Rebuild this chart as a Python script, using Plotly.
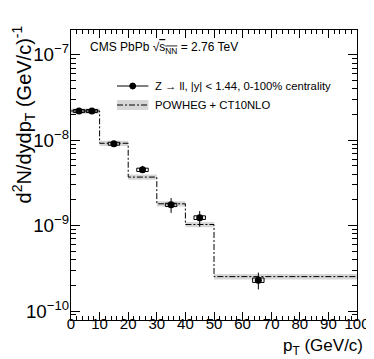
import plotly.graph_objects as go

# data points (CMS Z -> ll, PbPb)
pt = [2.8, 7.3, 15, 25, 35, 45, 65.5]
yields = [2.2e-8, 2.2e-8, 9.1e-9, 4.5e-9, 1.75e-9, 1.24e-9, 2.3e-10]
stat_up = [0.08e-8, 0.08e-8, 0.3e-9, 0.5e-9, 0.35e-9, 0.24e-9, 0.52e-10]
stat_dn = [0.08e-8, 0.08e-8, 0.3e-9, 0.3e-9, 0.34e-9, 0.27e-9, 0.51e-10]
syst_rel = [0.04, 0.04, 0.04, 0.045, 0.045, 0.05, 0.06]
syst_halfwidth = 2.0

# POWHEG + CT10NLO prediction
bin_edges = [0, 10, 20, 30, 40, 50, 100]
model = [2.2e-8, 9.2e-9, 3.7e-9, 1.8e-9, 1.03e-9, 2.53e-10]
model_rel = [0.07, 0.07, 0.07, 0.07, 0.07, 0.075]

FONT = "Liberation Sans"
X0, X1, Y0, Y1 = 63, 355, 22, 312  # plot frame in pixels


def px(x):
    return (x - X0) / (X1 - X0)


def py(y):
    return (Y1 - y) / (Y1 - Y0)


fig = go.Figure()

# model uncertainty band
bx, by = [], []
for lo, hi, v, r in zip(bin_edges[:-1], bin_edges[1:], model, model_rel):
    bx += [lo, hi, hi, lo, lo, None]
    by += [v * (1 - r), v * (1 - r), v * (1 + r), v * (1 + r), v * (1 - r), None]
fig.add_trace(go.Scatter(x=bx, y=by, fill='toself', fillcolor='rgb(215,215,215)',
                         line=dict(width=0), mode='lines', hoverinfo='skip'))

# model step line
fig.add_trace(go.Scatter(x=bin_edges, y=model + [model[-1]], mode='lines',
                         line=dict(shape='hv', color='black', width=1, dash='6px,2px,2px,2px')))

# systematic boxes
sx, sy = [], []
for x, y, r in zip(pt, yields, syst_rel):
    sx += [x - syst_halfwidth, x + syst_halfwidth, x + syst_halfwidth, x - syst_halfwidth,
           x - syst_halfwidth, None]
    sy += [y * (1 - r), y * (1 - r), y * (1 + r), y * (1 + r), y * (1 - r), None]
fig.add_trace(go.Scatter(x=sx, y=sy, mode='lines', line=dict(color='black', width=1)))

# data points with stat errors
fig.add_trace(go.Scatter(x=pt, y=yields, mode='markers',
                         marker=dict(color='black', size=7, symbol='circle'),
                         error_y=dict(type='data', symmetric=False, array=stat_up,
                                      arrayminus=stat_dn, color='black', thickness=1, width=0)))

# hand-made legend
shapes = [
    dict(type='line', xref='paper', yref='paper', x0=px(110), x1=px(142), y0=py(78), y1=py(78),
         line=dict(color='black', width=1)),
    dict(type='circle', xref='paper', yref='paper', x0=px(123), x1=px(129), y0=py(81), y1=py(75),
         fillcolor='black', line=dict(color='black', width=1)),
    dict(type='rect', xref='paper', yref='paper', x0=px(110), x1=px(142), y0=py(102), y1=py(92),
         fillcolor='rgb(215,215,215)', line=dict(width=0)),
    dict(type='line', xref='paper', yref='paper', x0=px(110), x1=px(142), y0=py(97), y1=py(97),
         line=dict(color='black', width=1, dash='6px,2px,2px,2px')),
]

annotations = [
    dict(text="CMS PbPb √<span style='text-decoration:overline'>s<sub>NN</sub></span> = 2.76 TeV",
         xref='paper', yref='paper', x=px(80), y=py(40), xanchor='left', yanchor='middle',
         showarrow=False, font=dict(size=12, family=FONT, color='black')),
    dict(text="Z → ll, |y| < 1.44, 0-100% centrality", xref='paper', yref='paper',
         x=px(147), y=py(78), xanchor='left', yanchor='middle', showarrow=False,
         font=dict(size=11.3, family=FONT, color='black')),
    dict(text="POWHEG + CT10NLO", xref='paper', yref='paper',
         x=px(147), y=py(97), xanchor='left', yanchor='middle', showarrow=False,
         font=dict(size=11.3, family=FONT, color='black')),
    dict(text="p<sub>T</sub> (GeV/c)", xref='paper', yref='paper',
         x=px(363), y=py(339), xanchor='right', yanchor='middle', showarrow=False,
         font=dict(size=17, family=FONT, color='black')),
    dict(text="d<sup>2</sup>N/dydp<sub>T</sub> (GeV/c)<sup>-1</sup>", xref='paper', yref='paper',
         x=px(14.5), y=py(106), xanchor='center', yanchor='middle', textangle=-90, showarrow=False,
         font=dict(size=20, family=FONT, color='black')),
]

fig.update_layout(
    width=374, height=359,
    margin=dict(l=X0, r=374 - X1, t=Y0, b=359 - Y1),
    paper_bgcolor='white', plot_bgcolor='white',
    showlegend=False,
    font=dict(family=FONT, size=15, color='black'),
    shapes=shapes, annotations=annotations,
    xaxis=dict(range=[0, 100], dtick=10, tick0=0, showgrid=False, zeroline=False,
               showline=True, linecolor='black', linewidth=1, mirror='allticks',
               ticks='inside', ticklen=8, tickcolor='black', ticklabelstandoff=-10,
               tickfont=dict(size=15),
               minor=dict(dtick=2, ticks='inside', ticklen=4, tickcolor='black')),
    yaxis=dict(type='log', range=[-10.105, -6.71], dtick=1, tick0=0, exponentformat='power',
               showgrid=False, zeroline=False, showline=True, linecolor='black', linewidth=1,
               mirror='allticks', ticks='inside', ticklen=9, tickcolor='black',
               tickfont=dict(size=15), ticklabelstandoff=-2,
               minor=dict(dtick='D1', ticks='inside', ticklen=5, tickcolor='black')),
)

fig.write_html("out.html")
